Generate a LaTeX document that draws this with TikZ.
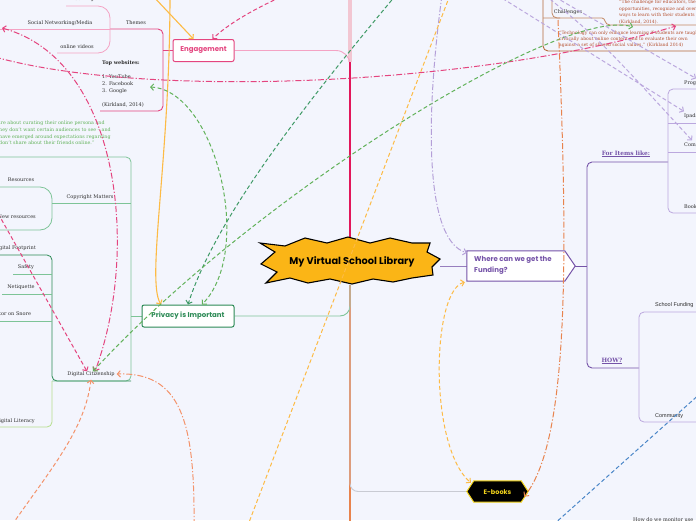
\documentclass[tikz,border=0pt]{standalone}
\usepackage{fontspec}
\newfontfamily\topicfont{Poppins}
\newfontfamily\labsans{Liberation Sans}
\newfontfamily\bodyfont{DejaVu Serif}
\usetikzlibrary{arrows.meta,calc}
\pgfdeclarelayer{back}\pgfdeclarelayer{lines}\pgfsetlayers{back,lines,main}
\definecolor{bg}{HTML}{F3F5FD}
\definecolor{engpink}{HTML}{E4457F}
\definecolor{lpink}{HTML}{F4A3C4}
\definecolor{crimson}{HTML}{E2175B}
\definecolor{vlpink}{HTML}{F2C6D2}
\definecolor{dgreen}{HTML}{2C8A55}
\definecolor{mgreen}{HTML}{7DC497}
\definecolor{ygreen}{HTML}{B6DE8E}
\definecolor{cgreen}{HTML}{62B25A}
\definecolor{cdgreen}{HTML}{3F9A66}
\definecolor{purp}{HTML}{7553A8}
\definecolor{lpurp}{HTML}{BBA8DE}
\definecolor{brownl}{HTML}{B46A3C}
\definecolor{quotec}{HTML}{B5502F}
\definecolor{orangeb}{HTML}{E8834D}
\definecolor{gold}{HTML}{FDBB45}
\definecolor{salmon}{HTML}{F4936B}
\definecolor{blueline}{HTML}{4A86C8}
\definecolor{grayline}{HTML}{C9CBD3}
\definecolor{stargold}{HTML}{FBB516}
\definecolor{ebkyellow}{HTML}{F2D31B}
\definecolor{txt}{HTML}{2E2E2E}
\tikzset{
  body/.style={font=\bodyfont\fontsize{5}{7}\selectfont, inner sep=0pt, text=txt},
  topic/.style={font=\topicfont\bfseries\fontsize{7}{8}\selectfont, inner sep=0pt},
  conn/.style={line width=1pt},
  dsh/.style={dash pattern=on 4pt off 2.5pt},
  dshdot/.style={dash pattern=on 6pt off 2pt on 1.2pt off 2pt},
  arrowone/.style={-{Straight Barb[length=3pt,width=6.5pt]}},
  arrowtwo/.style={{Straight Barb[length=3pt,width=6.5pt]}-{Straight Barb[length=3pt,width=6.5pt]}},
  branchline/.style={line width=0.8pt, rounded corners=5pt},
}
\begin{document}
\begin{tikzpicture}[x=1pt,y=-1pt]
\useasboundingbox (0,0) rectangle (696,520);
\begin{pgfonlayer}{back}
\fill[bg] (0,0) rectangle (696,520);
\end{pgfonlayer}
\clip (0,0) rectangle (696,520);

% ---------- main nodes ----------
\node[minimum width=180pt,minimum height=48pt,inner sep=0pt] (star) at (350,261) {};
\draw[fill=stargold, line width=1.1pt, line join=miter]
 (260,243) -- (285,246) -- (305,238) -- (327,243) -- (348,237) -- (370,243) -- (390,238) -- (412,243) -- (430,243)
 -- (427,252) -- (440,259) -- (432,267) -- (433,275) -- (412,278) -- (393,282) -- (373,279) -- (352,284)
 -- (330,279) -- (308,283) -- (290,278) -- (266,283) -- (277,272) -- (261,264) -- (275,252) -- cycle;
\node[topic, font=\topicfont\bfseries\fontsize{9.8}{11}\selectfont] (title) at (352,262) {My Virtual School Library};

\node[topic, draw=engpink, fill=white, line width=1pt, rounded corners=2pt, minimum width=61pt, minimum height=22pt, text=engpink] (eng) at (203.5,50.5) {Engagement};
\node[topic, draw=dgreen, fill=white, line width=1pt, rounded corners=2pt, minimum width=92pt, minimum height=22pt, text=dgreen] (priv) at (188,316) {Privacy is Important};

\node[minimum width=108pt, minimum height=30pt, inner sep=0pt] (fund) at (521,266) {};
\draw[purp, fill=white, line width=1pt] (fund.north west) -- ([xshift=98pt]fund.north west) -- (fund.east) -- ([xshift=98pt]fund.south west) -- (fund.south west) -- cycle;
\node[topic, text=purp, anchor=west, align=left, font=\topicfont\bfseries\fontsize{7}{11}\selectfont] (fundtxt) at (474,265.5) {Where can we get the\\Funding?};

\node[minimum width=61pt, minimum height=21pt, inner sep=0pt] (ebk) at (497.5,491.5) {};
\draw[fill=black, draw=ebkyellow, line width=1pt] (ebk.west) -- ([xshift=7pt]ebk.north west) -- ([xshift=-7pt]ebk.north east) -- (ebk.east) -- ([xshift=-7pt]ebk.south east) -- ([xshift=7pt]ebk.south west) -- cycle;
\node[topic, text=ebkyellow, font=\topicfont\bfseries\fontsize{6.5}{8}\selectfont] (ebktxt) at (497.5,492) {E-books};

% ---------- labels ----------
\node[body] (gaming) at (84,-1) {Gaming};
\node[body] (socnet) at (60,23) {Social Networking/Media};
\node[body] (onlinev) at (77,47) {online videos};
\node[body] (themes) at (136,23) {Themes};
\node[body, anchor=north west, align=left] (topweb) at (102,60.5) {\textbf{Top websites:}\\[7pt]1. YouTube\\2. Facebook\\3. Google\\[7pt](Kirkland, 2014)};
\node[body, text=cgreen, anchor=north west, align=left, font=\bodyfont\fontsize{4.8}{6.7}\selectfont] (teens) at (-1,121) {ire about curating their online persona and\\hey don’t want certain audiences to see – and\\have emerged around expectations regarding\\don’t share about their friends online.”};
\node[body] (copy) at (90,197) {Copyright Matters};
\node[body] (res) at (21,180) {Resources};
\node[body, anchor=east] (newres) at (36,217) {New resources};
\node[body, anchor=east] (digfoot) at (36,248) {Digital Footprint};
\node[body] (safety) at (26,267) {Safety};
\node[body] (neti) at (21,287) {Netiquette};
\node[body, anchor=west] (snore) at (-1,314) {tor on Snore};
\node[body] (dc) at (91,374) {Digital Citizenship};
\node[body, anchor=east] (diglit) at (35,421) {Digital Literacy};

\node[body, text=purp, font=\bodyfont\bfseries\fontsize{5.9}{7}\selectfont] (items) at (626,154) {\underline{For Items like:}};
\node[body, text=purp, font=\bodyfont\bfseries\fontsize{5.9}{7}\selectfont] (how) at (612,361) {\underline{HOW?}};
\node[body, anchor=west] (prog) at (684,83) {Programs};
\node[body, anchor=west] (ipad) at (684,116) {Ipads};
\node[body, anchor=west] (com) at (684,145) {Computers};
\node[body, anchor=west] (book) at (684,207) {Books};
\node[body, anchor=west, font=\labsans\fontsize{5.5}{7}\selectfont] (schoolf) at (655,305) {School Funding};
\node[body, anchor=west, font=\labsans\fontsize{5.5}{7}\selectfont] (commu) at (655,416) {Community};
\node[body, anchor=west] (monitor) at (633,520) {How do we monitor use};

\node[body] (chal) at (568,12) {Challenges};
\node[body, text=quotec, anchor=north west, align=left, font=\bodyfont\fontsize{4.5}{6.5}\selectfont] (quote1) at (619,0) {“The challenge for educators, then,\\opportunities, recognize and overcome\\ways to learn with their students\\(Kirkland, 2014).};
\node[body, text=quotec, anchor=north west, align=left, font=\bodyfont\fontsize{4.5}{6}\selectfont] (quote2) at (559,31) {“Technology can only enhance learning if students are taught\\critically about online content and to evaluate their own\\against a set of shared social values.” (Kirkland 2014)};

% ---------- branch lines ----------
\coordinate (engturn) at (350,62);
\coordinate (topend) at (350,-5);
\coordinate (botend) at (350,525);
\begin{pgfonlayer}{lines}
\draw[vlpink, line width=3.5pt] (topend) -- (engturn);
\draw[lpink, line width=0.9pt, rounded corners=14pt] (eng.east) -| (star.north);
\draw[crimson, line width=2.2pt] (engturn) -- (star.north);
\draw[orangeb, line width=2.2pt] (star.south) -- (botend);
\draw[mgreen, line width=0.9pt, rounded corners=10pt] (star.south) |- (priv.east);
\draw[grayline, line width=0.9pt, rounded corners=8pt] (star.south) |- (ebk.west);
\draw[purp!75, line width=0.9pt] (fund.west) -- (fund.west -| star.east);

% engagement subtree
\draw[engpink, line width=0.9pt] (eng.west) -- (163,50.5);
\draw[engpink, branchline, line width=0.9pt] (110,29) -- (163,29) -- (163,111) -- (100,111);
\draw[lpink, line width=0.8pt, rounded corners=12pt] (66,6) -- (110,6) -- (110,53) -- (57,53);
\draw[lpink, line width=0.8pt] (-2,29) -- (110,29);

% privacy subtree
\draw[mgreen, line width=0.9pt] (priv.west) -- (131,316);
\draw[mgreen, branchline] (-2,157) -- (131,157) -- (131,381) -- (52,381);
\draw[mgreen, line width=0.8pt] (52,203) -- (131,203);
\draw[mgreen, line width=0.8pt, rounded corners=12pt] (-2,187) -- (52,187) -- (52,230) -- (-2,230);
\draw[dgreen, branchline] (-2,255) -- (52,255) -- (52,381) -- (131,381);
\draw[mgreen, line width=0.8pt] (13,274) -- (52,274);
\draw[mgreen, line width=0.8pt] (2,294) -- (52,294);
\draw[mgreen, line width=0.8pt] (-2,321) -- (52,321);
\draw[ygreen, branchline] (52,381) -- (52,427) -- (-2,427);

% funding subtree
\draw[purp, line width=0.9pt] (fund.east) -- (587,266);
\draw[purp, branchline, line width=0.9pt] (668,162) -- (587,162) -- (587,368) -- (639,368);
\draw[lpurp, branchline] (700,89) -- (668,89) -- (668,213) -- (700,213);
\draw[lpurp, line width=0.8pt] (668,123) -- (700,123);
\draw[lpurp, line width=0.8pt] (668,152) -- (700,152);
\draw[lpurp, branchline] (700,312) -- (639,312) -- (639,422) -- (700,422);

% challenges subtree
\draw[brownl, branchline, line width=0.9pt] (543,-5) -- (543,51) -- (700,51);
\draw[brownl!80, line width=0.8pt] (543,18) -- (602,18) .. controls (606,18) and (604,25) .. (610,25) -- (700,25);
\draw[brownl!80, line width=0.8pt, rounded corners=5pt] (552,-5) -- (552,18) -- (560,18);
\end{pgfonlayer}

% ---------- connectors ----------
\coordinate (c1s) at (170,-5);
\coordinate (c2s) at (152,-5);
\coordinate (c3s) at (292,-8);
\coordinate (c4s) at (-5,57);
\coordinate (c4e) at (676,26);
\coordinate (c5s) at (2,28);
\coordinate (c6s) at (-5,208);
\coordinate (c7e) at (150,87);
\coordinate (c8s) at (396,-5);
\coordinate (c9e) at (633,27);
\coordinate (c10s) at (442,-5);
\coordinate (c11a) at (555,-3);
\coordinate (c11b) at (497,-5);
\coordinate (c11c) at (545,-5);
\coordinate (c12s) at (450,-5);
\coordinate (c12e) at (248,525);
\coordinate (c14s) at (558,20);
\coordinate (c15s) at (12,525);
\coordinate (c16s) at (194,525);
\coordinate (c17s) at (553,525);
\coordinate (c17e) at (702,392);

\draw[gold, line width=1.1pt, arrowone] (c1s) .. controls (170,160) and (146,280) .. ([xshift=-27pt]priv.north);
\draw[gold, line width=1.1pt, arrowone] (c2s) -- ([xshift=-10pt]eng.north);
\draw[engpink, conn, dsh, arrowone] (c3s) .. controls (255,8) and (228,24) .. ([xshift=9pt]eng.north);
\draw[engpink, conn, dshdot, arrowone] (c4s) .. controls (150,100) and (480,85) .. (c4e);
\draw[engpink, conn, dshdot, arrowtwo] (c5s) .. controls (120,60) and (140,250) .. ([xshift=4pt]dc.north);
\draw[engpink, conn, dsh, arrowone] (c6s) -- ([xshift=-4pt]dc.north);
\draw[cgreen, conn, dsh, arrowtwo] (c7e) .. controls (215,90) and (255,250) .. ([xshift=14pt]priv.north);
\draw[cdgreen, conn, dsh, arrowone] (c8s) .. controls (300,110) and (215,220) .. (priv.north);
\draw[cgreen, conn, dsh, arrowtwo] ([xshift=2pt]dc.north) .. controls (250,200) and (560,5) .. (c9e);
\draw[lpurp!90!purp, conn, dshdot, arrowone] (c10s) .. controls (425,120) and (425,240) .. ([yshift=-2pt]fund.north west);
\draw[lpurp, conn, dsh, arrowone] (c11a) -- ([xshift=12pt,yshift=2pt]prog.north west);
\draw[lpurp, conn, dsh, arrowone] (c11b) -- ([yshift=2pt]ipad.north west);
\draw[lpurp, conn, dsh, arrowone] (c11c) .. controls (600,40) .. ([xshift=8pt,yshift=2pt]com.north west);
\draw[gold, conn, dsh] (c12s) -- (c12e);
\draw[gold, conn, dsh, arrowtwo] ([xshift=-2pt,yshift=-1pt]fund.south west) .. controls (432,290) and (428,445) .. ([xshift=4pt,yshift=-2pt]ebk.north west);
\draw[orangeb, conn, dshdot, arrowone] (c14s) .. controls (568,250) and (570,440) .. ([xshift=-4pt,yshift=-5pt]ebk.east);
\draw[salmon, conn, dsh, arrowone] (c15s) .. controls (50,470) and (85,430) .. ([yshift=-3pt]dc.south);
\draw[salmon, conn, dshdot, arrowone] (c16s) .. controls (195,420) and (180,372) .. ([xshift=2pt]dc.east);
\draw[blueline, conn, dsh] (c17s) -- (c17e);
\end{tikzpicture}
\end{document}
